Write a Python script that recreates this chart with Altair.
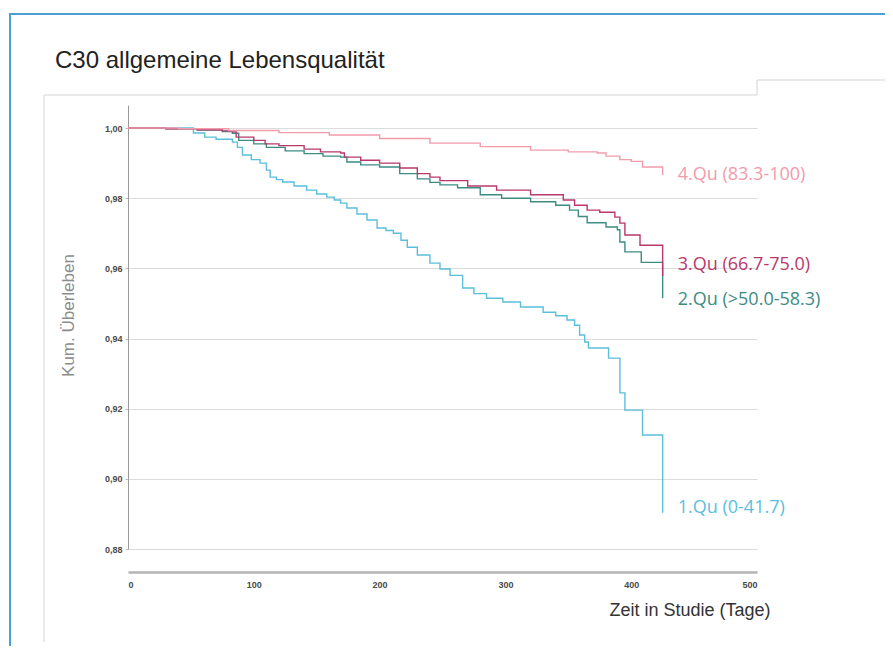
import altair as alt
import pandas as pd

# ---- data ----
q1_days = [0, 52, 61, 70, 83, 87, 91, 98, 105, 110, 113, 118, 123, 132, 142, 150, 158, 164, 169, 174,
           182, 190, 198, 205, 211, 217, 222, 230, 240, 248, 256, 266, 275, 285, 298, 312, 330, 340,
           349, 355, 359, 363, 366, 382, 391, 395, 409, 425]
q1_surv = [1.0, 0.9986, 0.9974, 0.9968, 0.996, 0.9945, 0.9923, 0.991, 0.990, 0.988, 0.986, 0.9853,
           0.9846, 0.9835, 0.9823, 0.9812, 0.9803, 0.9795, 0.9786, 0.9772, 0.9755, 0.9738, 0.9715,
           0.9708, 0.970, 0.968, 0.966, 0.9638, 0.9615, 0.9598, 0.958, 0.9544, 0.9528, 0.9515, 0.9504,
           0.949, 0.9475, 0.9465, 0.9453, 0.9438, 0.941, 0.939, 0.9373, 0.9344, 0.9245, 0.9196, 0.9125,
           0.8903]

q2_days = [0, 30, 55, 75, 83, 88, 100, 110, 125, 140, 155, 169, 174, 185, 200, 216, 230, 240, 248,
           262, 280, 297, 320, 340, 351, 358, 365, 380, 389, 391, 395, 408, 425]
q2_surv = [1.0, 0.9998, 0.9994, 0.999, 0.9985, 0.9965, 0.9955, 0.9945, 0.9935, 0.9927, 0.992, 0.9917,
           0.9903, 0.9895, 0.9889, 0.987, 0.9855, 0.9845, 0.9838, 0.983, 0.981, 0.980, 0.979, 0.978,
           0.9766, 0.9748, 0.973, 0.9718, 0.971, 0.9675, 0.9647, 0.9617, 0.9515]

q3_days = [0, 30, 55, 75, 83, 86, 100, 109, 120, 140, 153, 169, 172, 185, 200, 216, 230, 240, 248,
           270, 293, 320, 346, 355, 365, 375, 387, 391, 395, 407, 425]
q3_surv = [1.0, 0.9998, 0.9995, 0.9992, 0.9989, 0.9974, 0.9965, 0.9955, 0.995, 0.994, 0.9932, 0.9929,
           0.9917, 0.9908, 0.990, 0.9886, 0.987, 0.986, 0.985, 0.9835, 0.9823, 0.981, 0.9795, 0.978,
           0.9766, 0.976, 0.9746, 0.9729, 0.9695, 0.9666, 0.9578]

q4_days = [0, 40, 80, 120, 160, 200, 240, 280, 320, 350, 373, 380, 391, 400, 409, 425]
q4_surv = [1.0, 0.9998, 0.9993, 0.9987, 0.998, 0.997, 0.9957, 0.9947, 0.9937, 0.9932, 0.9929, 0.992,
           0.991, 0.9905, 0.9889, 0.9866]

series_names = ["1.Qu (0-41.7)", "2.Qu (>50.0-58.3)", "3.Qu (66.7-75.0)", "4.Qu (83.3-100)"]
line_colors = ["#5bbfdc", "#3d8c84", "#b8386c", "#f29bab"]
label_colors = ["#3aa8dc", "#3a9b94", "#e0336d", "#f0808c"]
label_day = [437, 437, 437, 437]
label_surv = [0.8917, 0.951, 0.9609, 0.9866]

y_ticks = [0.88, 0.90, 0.92, 0.94, 0.96, 0.98, 1.00]
x_ticks = [0, 100, 200, 300, 400, 500]

title_text = "C30 allgemeine Lebensqualität"

rows = []
for name, ds, ss in zip(series_names, [q1_days, q2_days, q3_days, q4_days],
                        [q1_surv, q2_surv, q3_surv, q4_surv]):
    for i, (d, s) in enumerate(zip(ds, ss)):
        rows.append({"series": name, "day": d, "surv": s, "order": i})
df = pd.DataFrame(rows)

lab = pd.DataFrame({"series": series_names, "day": label_day, "surv": label_surv})

W, H = 629, 444
x_scale = alt.Scale(domain=[0, 500], nice=False, zero=False)
y_scale = alt.Scale(domain=[0.88, 1.00657], nice=False, zero=False)

lines = alt.Chart(df).mark_line(interpolate="step-after", strokeWidth=1.4).encode(
    x=alt.X("day:Q", scale=x_scale,
            axis=alt.Axis(values=x_ticks, grid=False, ticks=False, offset=23,
                          domainColor="#b4b4b4", domainWidth=2.5, labelFontSize=9,
                          labelFont="Liberation Sans", labelFontWeight="bold",
                          labelColor="#4a4a4a", labelPadding=8,
                          title="Zeit in Studie (Tage)", titleFont="Liberation Sans",
                          titleFontSize=18, titleFontWeight="normal", titleColor="#333333",
                          titleAlign="right", titleX=642, titleY=43,
                          titleBaseline="alphabetic")),
    y=alt.Y("surv:Q", scale=y_scale,
            axis=alt.Axis(values=y_ticks, grid=True, gridColor="#dcdcdc",
                          labelExpr="replace(format(datum.value, '.2f'), '.', ',')",
                          labelFontSize=9, labelFont="Liberation Sans", labelFontWeight="bold",
                          labelColor="#4a4a4a", labelPadding=3, tickSize=3, tickColor="#bbbbbb",
                          domainColor="#9a9a9a", title="Kum. Überleben",
                          titleFont="Liberation Sans", titleFontSize=17,
                          titleFontWeight="normal", titleColor="#8c8c8c",
                          titleX=-60, titleY=210, titleAlign="center",
                          titleBaseline="middle")),
    color=alt.Color("series:N", scale=alt.Scale(domain=series_names, range=line_colors),
                    legend=None),
    order="order:Q",
    detail="series:N",
)

labels = alt.Chart(lab).mark_text(align="left", baseline="middle", font="Open Sans",
                                  fontSize=18).encode(
    x=alt.X("day:Q", scale=x_scale),
    y=alt.Y("surv:Q", scale=y_scale),
    text="series:N",
    color=alt.Color("series:N", scale=alt.Scale(domain=series_names, range=label_colors),
                    legend=None),
)

one = pd.DataFrame({"k": [0]})
frame = alt.Chart(one).mark_rect(fill=None, stroke="#4a9fd5", strokeWidth=2).encode(
    x=alt.value(-118), x2=alt.value(800), y=alt.value(-91), y2=alt.value(600))
panel_top = alt.Chart(one).mark_rule(color="#e2e2e2", strokeWidth=1.5).encode(
    x=alt.value(-84), x2=alt.value(629), y=alt.value(-10))
panel_step = alt.Chart(one).mark_rule(color="#e2e2e2", strokeWidth=1.5).encode(
    x=alt.value(629), y=alt.value(-25), y2=alt.value(-10))
panel_top2 = alt.Chart(one).mark_rule(color="#e2e2e2", strokeWidth=1.5).encode(
    x=alt.value(629), x2=alt.value(800), y=alt.value(-25))
panel_left = alt.Chart(one).mark_rule(color="#e2e2e2", strokeWidth=1.5).encode(
    x=alt.value(-84), y=alt.value(-10), y2=alt.value(537))
title = alt.Chart(one).mark_text(align="left", baseline="alphabetic", font="Liberation Sans",
                                 fontSize=24, color="#222222").encode(
    x=alt.value(-73), y=alt.value(-37), text=alt.value(title_text))

chart = alt.layer(frame, panel_top, panel_step, panel_top2, panel_left, title,
                  lines, labels).properties(
    width=W, height=H,
    autosize=alt.AutoSizeParams(type="none"),
    padding={"left": 120, "top": 97, "right": 128, "bottom": 97},
).configure_view(stroke=None)

chart.save("out.html", embed_options={"renderer": "svg", "actions": False})
